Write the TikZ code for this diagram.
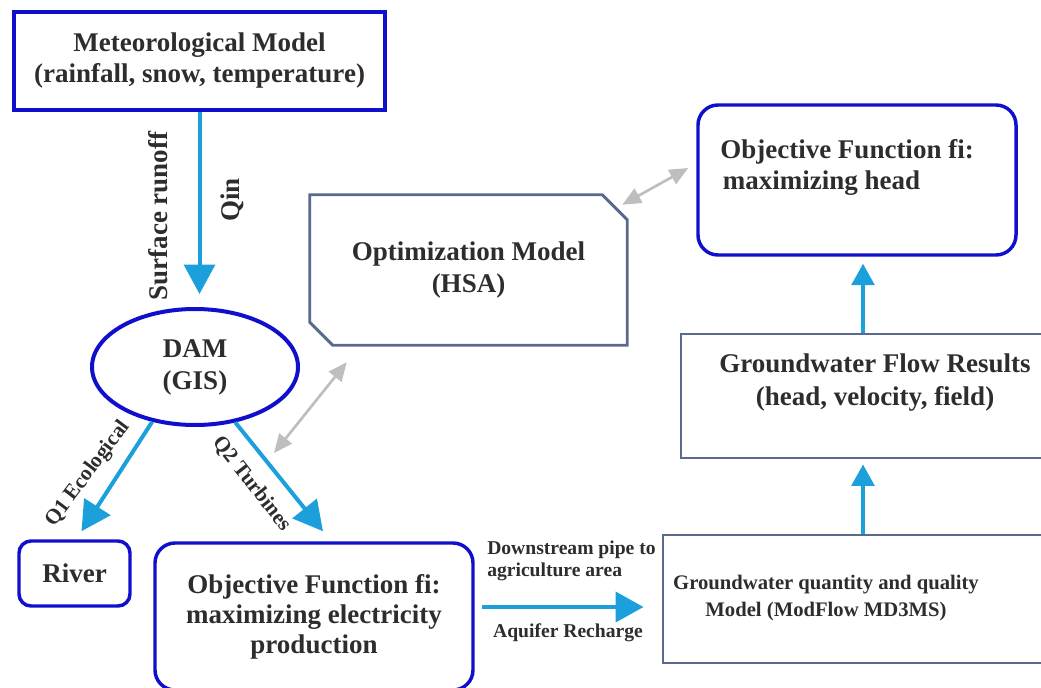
\documentclass[tikz,border=0pt]{standalone}
\usepackage{fontspec}
\setmainfont{Liberation Serif}
\usetikzlibrary{arrows.meta,calc,shapes.geometric}
\definecolor{bordblue}{RGB}{16,16,204}
\definecolor{arrblue}{RGB}{27,160,220}
\definecolor{slate}{RGB}{90,106,140}
\definecolor{arrgray}{RGB}{190,190,190}
\definecolor{txt}{RGB}{45,45,45}
\begin{document}
\begin{tikzpicture}[x=0.75pt,y=-0.75pt,
  every node/.style={text=txt,font=\bfseries},
  big/.style={font=\fontsize{20.25}{23.25}\selectfont\bfseries},
  small/.style={font=\fontsize{14.7}{16.5}\selectfont\bfseries},
  bluebox/.style={draw=bordblue,line width=2.6pt,rounded corners=15pt,inner sep=0pt},
  slatebox/.style={draw=slate,line width=2.2pt,inner sep=0pt},
  flowarrow/.style={draw=arrblue,line width=3pt,-{Triangle[length=22pt,width=23pt]}},
  uparrow/.style={draw=arrblue,line width=2.6pt,-{Triangle[length=16pt,width=17pt]}},
  twoway/.style={draw=arrgray,line width=2pt,{Triangle[length=14pt,width=12pt]}-{Triangle[length=14pt,width=12pt]}},
]
\useasboundingbox (0,0) rectangle (1041,688);
\clip (0,0) rectangle (1041,688);

% nodes
\node[draw=bordblue,line width=3pt,minimum width=278.25pt,minimum height=73.5pt,inner sep=0pt,big,align=center] (met) at (199.5,61) {Meteorological Model\\(rainfall, snow, temperature)};

\node[ellipse,draw=bordblue,line width=3pt,minimum width=154.5pt,minimum height=87pt,inner sep=0pt,big,align=center,font=\fontsize{20.25}{24}\selectfont\bfseries] (dam) at (195,367) {DAM\\(GIS)};

\node[minimum width=237.75pt,minimum height=112.5pt,inner sep=0pt,big,align=center,font=\fontsize{20.25}{24}\selectfont\bfseries] (opt) at (468.5,270) {Optimization Model\\(HSA)};
\draw[slate,line width=2.2pt,line join=miter] (opt.north west) -- ($(opt.north east)+(-25,0)$) -- ($(opt.north east)+(0,25)$) -- (opt.south east) -- ($(opt.south west)+(23,0)$) -- ($(opt.south west)+(0,-23)$) -- cycle;

\node[bluebox,minimum width=238.5pt,minimum height=112.5pt] (head) at (857,180) {};
\node[big,align=left,anchor=west,inner sep=0pt] (headtxt) at (720,167) {Objective Function fi:\\\hspace{2pt}maximizing head};

\node[slatebox,minimum width=273pt,minimum height=93pt] (flow) at (863,396) {};
\node[big,align=center,inner sep=0pt,font=\fontsize{20.25}{24.75}\selectfont\bfseries] (flowtxt) at (875,383) {Groundwater Flow Results\\(head, velocity, field)};

\node[slatebox,minimum width=300pt,minimum height=96pt] (qty) at (863,599) {};
\node[align=center,inner sep=0pt,font=\fontsize{15.5}{20.25}\selectfont\bfseries] (qtytxt) at (826,598) {Groundwater quantity and quality\\Model (ModFlow MD3MS)};

\node[bluebox,minimum width=238.5pt,minimum height=110.25pt,align=center,font=\fontsize{20.25}{22.5}\selectfont\bfseries] (elec) at (314,616.5) {Objective Function fi:\\maximizing electricity\\production};

\node[bluebox,rounded corners=9pt,minimum width=83.25pt,minimum height=48.75pt,big] (river) at (74.5,573.5) {River};

% connectors
\draw[flowarrow] (met.south) -- ($(met.south |- dam.north)+(0,-13)$);
\draw[flowarrow] (dam.232) -- ($(river.north)+(7,-8)$);
\draw[flowarrow] (dam.306) -- ($(elec.north)+(9,-10)$);
\draw[twoway] ($(dam.east)+(-26,86)$) -- ($(opt.south west)+(37,17)$);
\draw[twoway] ($(opt.north east)+(-5,10)$) -- ($(head.west)+(-8,-12)$);
\draw[uparrow] (qty.north) -- ($(flow.south)+(0,5)$);
\draw[uparrow] (flow.north) -- ($(flow.north |- head.south)+(0,7)$);
\draw[draw=arrblue,line width=3pt,-{Triangle[length=21pt,width=22.5pt]}] ($(elec.east)+(7,-9.5)$) -- ($(qty.west |- elec.east)+(-18,-9.5)$);

% labels
\node[rotate=90,big,inner sep=0pt] (lsr) at (158,216) {Surface runoff};
\node[rotate=90,big,inner sep=0pt] (lqin) at (232,200) {Qin};
\node[rotate=53,inner sep=0pt,font=\fontsize{16}{18}\selectfont\bfseries] (lq1) at (88,474) {Q1 Ecological};
\node[rotate=-52,inner sep=0pt,font=\fontsize{16}{18}\selectfont\bfseries] (lq2) at (252,484) {Q2 Turbines};
\node[small,anchor=west,align=left,inner sep=0pt] (ldown) at (487,561) {Downstream pipe to\\agriculture area};
\node[small,inner sep=0pt] (laq) at (568,633) {Aquifer Recharge};
\end{tikzpicture}
\end{document}
